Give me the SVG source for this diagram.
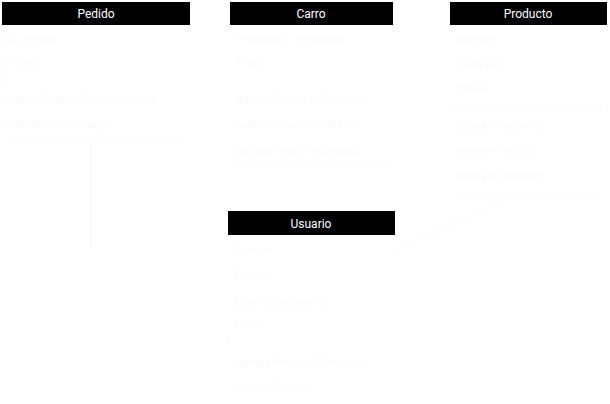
<svg xmlns="http://www.w3.org/2000/svg" width="610" height="404" viewBox="0 0 610 404">
<style>
.box{fill:#ffffff;stroke:#fcfcfc;stroke-width:1}
.hdr{fill:#000000}
.ttl{font-family:Roboto,"Liberation Sans",Arial,sans-serif;font-size:12px;font-weight:normal;fill:#ffffff;text-anchor:middle}
.t{font-family:"Liberation Sans",Arial,sans-serif;font-size:11px;fill:#fafafa}
.sep{stroke:#fcfcfc;stroke-width:1}
.c{fill:none;stroke:#f9f9f9;stroke-width:1}
</style>
<rect width="610" height="404" fill="#ffffff"/>
<g id="connectors">
<polyline class="c" points="91,137 91,248"/>
<line class="c" x1="523" y1="192" x2="396" y2="250"/>
</g>
<g id="Pedido">
<rect class="box" x="2" y="2" width="188" height="136"/>
<rect class="hdr" x="2" y="2" width="188" height="23"/>
<text class="ttl" x="96" y="18">Pedido</text>
<text class="t" x="6" y="43">ID_Pedido</text>
<text class="t" x="6" y="66">Fecha</text>
<line class="sep" x1="2" y1="80" x2="190" y2="80"/>
<text class="t" x="6" y="103">realizarPedido(Carro, Usuario)</text>
<text class="t" x="6" y="128">calcularPrecioTotal()</text>
</g>
<g id="Carro">
<rect class="box" x="230" y="2" width="163" height="162"/>
<rect class="hdr" x="230" y="2" width="163" height="23"/>
<text class="ttl" x="311" y="18">Carro</text>
<text class="t" x="236" y="43">Productos : Producto[]</text>
<text class="t" x="236" y="66">Total</text>
<line class="sep" x1="230" y1="80" x2="393" y2="80"/>
<text class="t" x="236" y="103">agregarProducto(Producto)</text>
<text class="t" x="236" y="128">quitarProducto(Producto)</text>
<text class="t" x="236" y="154">calcularTotal(Productos[])</text>
</g>
<g id="Producto">
<rect class="box" x="450" y="2" width="157" height="192"/>
<rect class="hdr" x="450" y="2" width="157" height="23"/>
<text class="ttl" x="528" y="18">Producto</text>
<text class="t" x="456" y="43">Nombre</text>
<text class="t" x="456" y="69">Cantidad</text>
<text class="t" x="456" y="92">Precio</text>
<line class="sep" x1="450" y1="107" x2="607" y2="107"/>
<text class="t" x="456" y="129">obtenerNombre()</text>
<text class="t" x="456" y="154">obtenerPrecio()</text>
<text class="t" x="456" y="180">obtenerCantidad()</text>
</g>
<g id="Usuario">
<rect class="box" x="228" y="211" width="167" height="190"/>
<rect class="hdr" x="228" y="211" width="167" height="24"/>
<text class="ttl" x="311" y="228">Usuario</text>
<text class="t" x="234" y="254">Nombre</text>
<text class="t" x="234" y="279">Correo</text>
<text class="t" x="234" y="305">Clave_Contraseña</text>
<text class="t" x="234" y="328">Carro</text>
<line class="sep" x1="228" y1="342" x2="395" y2="342"/>
<text class="t" x="234" y="366">agregarProducto(Producto)</text>
<text class="t" x="234" y="391">comprarCarro()</text>
</g>
</svg>
